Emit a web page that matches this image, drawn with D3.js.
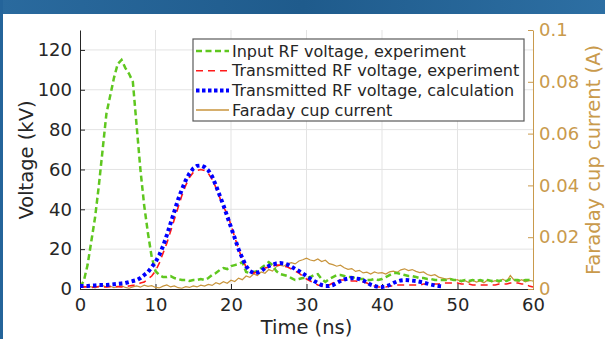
<!DOCTYPE html>
<html><head><meta charset="utf-8">
<script src="https://cdn.jsdelivr.net/npm/d3@7"></script>
<style>html,body{margin:0;padding:0;background:#fff;}svg{display:block;font-family:"DejaVu Sans",sans-serif;}</style>
</head><body><svg id="c" width="605" height="339"></svg>
<script>
const xTicks=[0,10,20,30,40,50,60];
const yLeftTicks=[0,20,40,60,80,100,120];
const yRightTicks=[0,0.02,0.04,0.06,0.08,0.1];
const yRightLabels=["0","0.02","0.04","0.06","0.08","0.1"];
const seriesNames=["Input RF voltage, experiment","Transmitted RF voltage, experiment","Transmitted RF voltage, calculation","Faraday cup current"];
// time grid for sampled series (ns), step 0.5
const timeGreen=d3.range(0,60.01,0.5);
const inputV=[1,4,12,24,36,52,70,88,97,106,113,115,111,108,104,82,60,42,28,16,9,7,6,6,6.5,5.5,5,4.5,4.5,4,4.5,4.5,5,4.5,5.5,7,8,9.5,10.5,10,11.5,12,12.5,13.5,8.5,8,8.5,9,10.5,12,13.5,12,9,7.5,7,6.5,5.5,4.5,5,5.5,5.5,6,7,7.5,5,3.5,5,6,7,7,6.5,6,6,5.5,5,5,4.5,4.5,5,4.5,5,6,7,8,8,7.5,7,6.5,6.5,6,5.5,5.5,5,5,4.5,4.5,4.5,4.5,5,4.5,4.5,4,4.5,4,4.5,4,4.5,4,4.5,4,4.5,4,4.5,4,5,4.5,4.5,4,4.5,4.5,4];
const timeRed=d3.range(0,60.01,0.5);
const transExpV=[1,1.2,1,0.8,1,1.2,1,1,1.2,1,1.2,1,1.3,1.5,1.8,2.2,3,3.5,5,6.5,9,13,18,23,29,35,41,47,52,56,58.5,59.5,60,59.5,58,55,51,46,41,38,32,26,20,15,11,9,8,8.5,9.5,10.5,11,11.5,12,12,11.5,11,10,9,8,6.5,5,4,3,2,1.5,1.5,2,3,4,4.5,4.5,4.5,4,4,3.5,3.5,3,2,1.5,1,1,1,1.5,1.5,2,2,2,2,2,2,2,2.5,2.5,2.5,2.5,2.5,3,3,3,3,3,2.5,2.5,2.5,2,2,2,2,2,2,2,2.5,2.5,2.5,3,3,3,2.5,2.5,1.5,1];
const timeBlue=d3.range(0,48.01,0.5);
const transCalcV=[1.5,1.5,1.5,1.7,1.8,2,2,2,2.2,2.4,2.6,2.8,3,3.5,4,4.5,5.5,7,8.5,11,13.5,17,21.5,27,33,39,45,50,54.5,58,60.5,61.8,62,61.2,59.5,56.5,52,47,42,36.5,31,25.5,20,15.5,11.5,9,8,8.2,9,10.5,11.5,12.2,12.8,13,12.8,12.2,11.2,10,9,7.8,6.5,5.2,4,3,2,1.5,1.5,2,3,4,4.8,5.2,5.5,5.3,5,4.3,3.3,2.2,1.5,1,1,1.3,2,3,3.8,4.3,4.5,4.4,4.2,4,3.6,3.2,2.7,2.2,1.8,1.5,1.3];
const timeTan=d3.range(0,60.01,0.5);
const cupI=[0.001,0.0006,0.0012,0.0008,0.0004,0.001,0.0014,0.0007,0.0011,0.0005,0.0009,0.0013,0.0006,0.0003,0.0008,0.0012,0.0007,0.0015,0.001,0.0013,0.0006,0.0004,0.0011,0.0016,0.0008,0.0012,0.0005,0.0003,0.0009,0.0006,0.0012,0.0008,0.0015,0.0011,0.0018,0.0014,0.0024,0.0019,0.0028,0.0022,0.0034,0.0029,0.0042,0.0036,0.005,0.0045,0.0058,0.0052,0.0066,0.0061,0.0075,0.0069,0.0086,0.0092,0.0088,0.0098,0.0102,0.0097,0.0108,0.0113,0.0119,0.0112,0.0109,0.0116,0.0106,0.0111,0.0098,0.0094,0.0088,0.0092,0.0082,0.0076,0.0079,0.0068,0.0072,0.0062,0.0065,0.0058,0.0066,0.0061,0.0063,0.0058,0.0066,0.0069,0.0064,0.0074,0.0078,0.0071,0.0075,0.0068,0.0063,0.0066,0.0056,0.0052,0.0055,0.0046,0.0042,0.0038,0.0041,0.0033,0.0036,0.0028,0.0032,0.0025,0.0034,0.0027,0.0031,0.0024,0.0035,0.0028,0.0032,0.0026,0.0038,0.003,0.0052,0.0034,0.0029,0.0036,0.0028,0.0033,0.0031];

const svg=d3.select("#c");
const W=605,H=339;
const L=80,R=533,T=30,B=289;
const x=d3.scaleLinear().domain([0,60]).range([L,R]);
const yL=d3.scaleLinear().domain([0,130]).range([B,T]);
const yR=d3.scaleLinear().domain([0,0.1]).range([B,T]);
const tan="#c99a4c", tanLine="#c8943c";
const green="#5fc71f", red="#ff1a1a", blue="#0000ff";
const ink="#262626";

// slide frame
svg.append("rect").attr("x",0).attr("y",0).attr("width",W).attr("height",H).attr("fill","#fff");
const gf=svg.append("defs").append("linearGradient").attr("id","bg").attr("x1","0").attr("x2","1");
gf.append("stop").attr("offset","0").attr("stop-color","#2a6a9e");
gf.append("stop").attr("offset","0.5").attr("stop-color","#1f5b8c");
gf.append("stop").attr("offset","1").attr("stop-color","#2d6fa3");
svg.append("rect").attr("x",0).attr("y",0).attr("width",W).attr("height",14).attr("fill","url(#bg)");
svg.append("rect").attr("x",0).attr("y",0).attr("width",3).attr("height",H).attr("fill","#24649a");

// grid
const grid=svg.append("g").attr("stroke","#e3e3e3").attr("stroke-width",1);
xTicks.filter(t=>t>0&&t<60).forEach(t=>grid.append("line").attr("x1",x(t)).attr("x2",x(t)).attr("y1",T).attr("y2",B));
yLeftTicks.filter(t=>t>0).forEach(t=>grid.append("line").attr("x1",L).attr("x2",R).attr("y1",yL(t)).attr("y2",yL(t)));

// axes
const fs=18;
const gx=svg.append("g").attr("transform",`translate(0,${B})`).call(d3.axisBottom(x).tickValues(xTicks).tickSize(-5).tickPadding(9).tickFormat(d3.format("d")));
gx.select(".domain").attr("stroke",ink);
gx.selectAll(".tick line").attr("stroke",ink);
gx.selectAll("text").attr("font-size",fs).attr("fill",ink).attr("font-family","DejaVu Sans");
const gy=svg.append("g").attr("transform",`translate(${L},0)`).call(d3.axisLeft(yL).tickValues(yLeftTicks).tickSize(-5).tickPadding(8).tickSizeOuter(0));
gy.select(".domain").attr("stroke",ink);
gy.selectAll(".tick line").attr("stroke",ink);
gy.selectAll("text").attr("font-size",fs).attr("fill",ink).attr("font-family","DejaVu Sans");
const gr=svg.append("g").attr("transform",`translate(${R},0)`).call(d3.axisRight(yR).tickValues(yRightTicks).tickSize(-5).tickPadding(6).tickSizeOuter(0).tickFormat((d,i)=>yRightLabels[i]));
gr.select(".domain").attr("stroke",tan);
gr.selectAll(".tick line").attr("stroke",tan);
gr.selectAll("text").attr("font-size",fs).attr("fill",tan).attr("font-family","DejaVu Sans");

// labels
svg.append("text").attr("x",(L+R)/2).attr("y",334).attr("text-anchor","middle").attr("font-size",19.5).attr("fill",ink).text("Time (ns)");
svg.append("text").attr("transform","translate(33,160) rotate(-90)").attr("text-anchor","middle").attr("font-size",19.5).attr("fill",ink).text("Voltage (kV)");
svg.append("text").attr("transform","translate(600,160) rotate(-90)").attr("text-anchor","middle").attr("font-size",19.5).attr("fill",tan).text("Faraday cup current (A)");

// clip
svg.append("clipPath").attr("id","clip").append("rect").attr("x",L).attr("y",T-2).attr("width",R-L+1).attr("height",B-T+3);
const plot=svg.append("g").attr("clip-path","url(#clip)");
const lineL=d3.line().x(d=>x(d[0])).y(d=>yL(d[1]));
const lineR=d3.line().x(d=>x(d[0])).y(d=>yR(d[1]));
const zip=(a,b)=>a.map((t,i)=>[t,b[i]]);

plot.append("path").attr("d",lineR(zip(timeTan,cupI))).attr("fill","none").attr("stroke",tanLine).attr("stroke-width",1.2);
plot.append("path").attr("d",lineL(zip(timeGreen,inputV))).attr("fill","none").attr("stroke",green).attr("stroke-width",2.5).attr("stroke-dasharray","6,3.5");
plot.append("path").attr("d",lineL(zip(timeRed,transExpV))).attr("fill","none").attr("stroke",red).attr("stroke-width",1.6).attr("stroke-dasharray","7,5");
plot.append("path").attr("d",lineL(zip(timeBlue,transCalcV))).attr("fill","none").attr("stroke",blue).attr("stroke-width",4).attr("stroke-dasharray","3.5,3");

// legend
const lg=svg.append("g");
lg.append("rect").attr("x",193).attr("y",39).attr("width",331).attr("height",82).attr("fill","#fff").attr("stroke","#5a5a5a").attr("stroke-width",1.2);
const styles=[{c:green,w:2.5,d:"6,3.5"},{c:red,w:1.6,d:"7,5"},{c:blue,w:4,d:"3.5,2.5"},{c:tanLine,w:1.5,d:null}];
seriesNames.forEach((n,i)=>{
  const yy=51+i*19.7;
  const ln=lg.append("line").attr("x1",196).attr("x2",229).attr("y1",yy).attr("y2",yy).attr("stroke",styles[i].c).attr("stroke-width",styles[i].w);
  if(styles[i].d) ln.attr("stroke-dasharray",styles[i].d);
  lg.append("text").attr("x",232).attr("y",yy).attr("dominant-baseline","central").attr("font-size",16).attr("fill",ink).text(n);
});
</script></body></html>
